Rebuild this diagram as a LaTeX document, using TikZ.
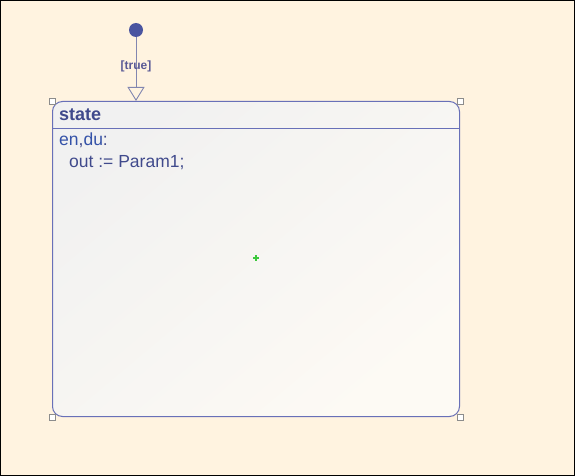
\documentclass[tikz,border=0pt]{standalone}
\usepackage{fontspec}
\setmainfont{Liberation Sans}
\usetikzlibrary{arrows.meta,calc}
\definecolor{bgcream}{RGB}{255,243,224}
\definecolor{edgeblue}{RGB}{104,112,184}
\definecolor{textblue}{RGB}{64,74,140}
\definecolor{kwblue}{RGB}{52,82,168}
\definecolor{dotblue}{RGB}{74,84,160}
\definecolor{lblblue}{RGB}{90,90,150}
\definecolor{arrowgray}{RGB}{130,134,176}
\definecolor{handlegray}{RGB}{140,140,140}
\definecolor{plusgreen}{RGB}{60,200,60}
\definecolor{shadetl}{RGB}{241,241,241}
\definecolor{shadebr}{RGB}{253,250,244}
\tikzset{
  handle/.style={draw=handlegray, fill=white, line width=0.8pt, minimum size=6pt, inner sep=0pt},
  conn/.style={draw=arrowgray, line width=0.9pt, -{Triangle[open, length=14pt, width=17pt]}},
  txt/.style={text=textblue, inner sep=0pt, anchor=base west}
}
\begin{document}
\begin{tikzpicture}[x=1pt,y=-1pt]
\fill[bgcream] (0,0) rectangle (575,476);
\draw[black, line width=1pt] (0.5,0.5) rectangle (574.5,475.5);
\useasboundingbox (0,0) rectangle (575,476);
% state box
\shade[rounded corners=10pt, top color=shadetl, bottom color=shadebr, shading angle=40]
  (52,101) rectangle (459,416);
\node[draw=edgeblue, line width=1pt, rounded corners=10pt, minimum width=407pt, minimum height=315pt, inner sep=0pt, anchor=north west] (state) at (52,101) {};
\draw[edgeblue, line width=0.8pt] (52,128) -- (459,128);
\node[txt, font=\bfseries\fontsize{18}{20}\selectfont] (title) at (59,120.5) {state};
\node[txt, font=\fontsize{17.5}{20}\selectfont] (l1) at (59,145.5) {\textcolor{kwblue}{en},\textcolor{kwblue}{du}:};
\node[txt, font=\fontsize{17.5}{20}\selectfont] (l2) at (69,167.5) {out := Param1;};
% initial
\node[circle, fill=dotblue, minimum size=14pt, inner sep=0pt] (init) at (136,30) {};
\draw[conn] (init) -- (init |- state.north);
\node[text=lblblue, font=\bfseries\fontsize{12}{14}\selectfont, inner sep=0pt, anchor=base] (lbl) at (136,70) {[true]};
% handles
\node[handle] (h1) at (state.north west) {};
\node[handle] (h2) at (state.north east) {};
\node[handle] (h3) at (state.south west) {};
\node[handle] (h4) at (state.south east) {};
% center plus
\node[inner sep=0pt] (plus) at (256,258) {};
\draw[plusgreen, line width=1.6pt] ($(plus)+(-3,0)$) -- ($(plus)+(3,0)$);
\draw[plusgreen, line width=1.6pt] ($(plus)+(0,-3)$) -- ($(plus)+(0,3)$);
\end{tikzpicture}
\end{document}
